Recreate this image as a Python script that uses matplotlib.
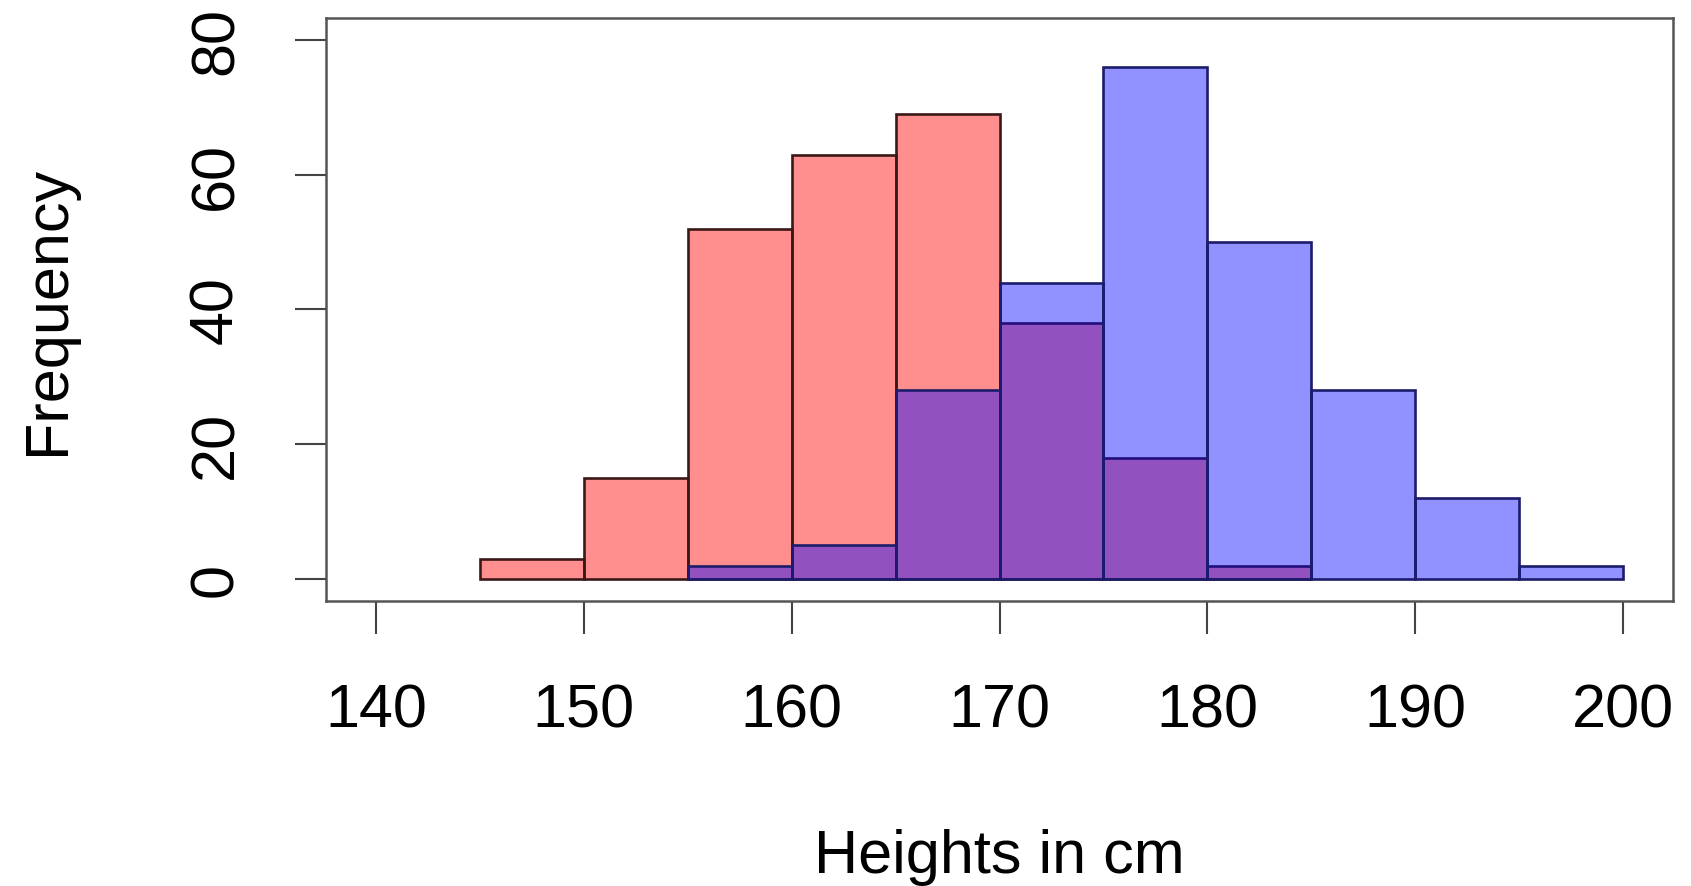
import matplotlib
matplotlib.use('Agg')
import matplotlib.pyplot as plt
import numpy as np

# bin edges and counts
female_edges = [145, 150, 155, 160, 165, 170, 175, 180, 185]
female_counts = [3, 15, 52, 63, 69, 38, 18, 2]
male_edges = [155, 160, 165, 170, 175, 180, 185, 190, 195, 200]
male_counts = [2, 5, 28, 44, 76, 50, 28, 12, 2]

x_ticks = [140, 150, 160, 170, 180, 190, 200]
y_ticks = [0, 20, 40, 60, 80]

plt.rcParams['font.family'] = ['Liberation Sans', 'DejaVu Sans']

fig = plt.figure(figsize=(16.91, 8.87), dpi=100)
ax = fig.add_axes([0.1928, 0.3218, 0.7966, 0.6563])

# females first, males drawn over them
fe = np.array(female_edges)
ax.bar(fe[:-1], female_counts, width=np.diff(fe), align='edge',
       color=(1, 0, 0, 0.44), edgecolor='#3a1818', linewidth=1.9)
me = np.array(male_edges)
ax.bar(me[:-1], male_counts, width=np.diff(me), align='edge',
       color=(0, 0, 1, 0.43), edgecolor='#1c1c6a', linewidth=1.9)

ax.set_xlim(137.6, 202.4)
ax.set_ylim(-3.2, 83.2)

ax.set_xticks(x_ticks)
ax.set_yticks(y_ticks)
ax.tick_params(axis='x', direction='out', length=24, width=1.5, color='#444444',
               labelsize=44, pad=35)
ax.tick_params(axis='y', direction='out', length=22, width=1.5, color='#444444',
               labelsize=44, pad=36)
for lab in ax.get_yticklabels():
    lab.set_rotation(90)
    lab.set_va('center')

for sp in ax.spines.values():
    sp.set_color('#555555')
    sp.set_linewidth(1.8)

ax.set_xlabel('Heights in cm', fontsize=44, va='center')
ax.xaxis.set_label_coords(0.5, -0.44)
ax.set_ylabel('Frequency', fontsize=44, va='center')
ax.yaxis.set_label_coords(-0.206, 0.5)

fig.savefig('out.png', dpi=100)
